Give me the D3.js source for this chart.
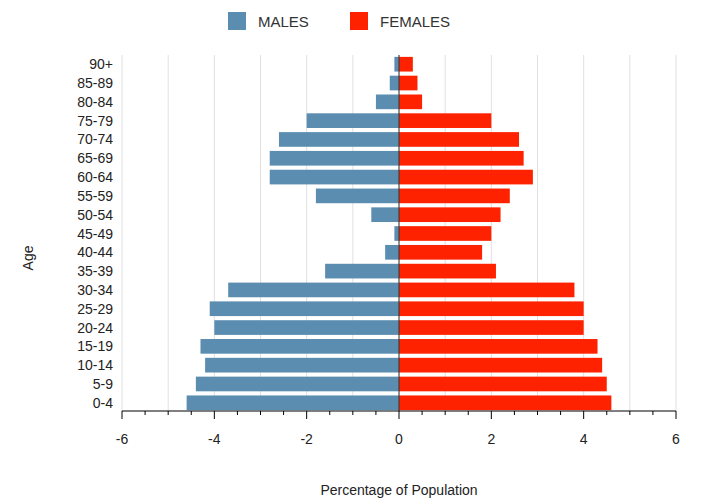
<!DOCTYPE html>
<html><head><meta charset="utf-8">
<script src="https://cdn.jsdelivr.net/npm/d3@7"></script>
<style>body{margin:0;background:#fff;font-family:Arial,"Liberation Sans",sans-serif}</style>
</head><body><div id="chart"></div>
<script>
const ages = ["0-4","5-9","10-14","15-19","20-24","25-29","30-34","35-39","40-44","45-49","50-54","55-59","60-64","65-69","70-74","75-79","80-84","85-89","90+"];
const males = [-4.6,-4.4,-4.2,-4.3,-4.0,-4.1,-3.7,-1.6,-0.3,-0.1,-0.6,-1.8,-2.8,-2.8,-2.6,-2.0,-0.5,-0.2,-0.1];
const females = [4.6,4.5,4.4,4.3,4.0,4.0,3.8,2.1,1.8,2.0,2.2,2.4,2.9,2.7,2.6,2.0,0.5,0.4,0.3];
const xTicks = [-6,-4,-2,0,2,4,6];

const width = 726, height = 503;
const svg = d3.select("#chart").append("svg").attr("width", width).attr("height", height);
const x = d3.scaleLinear().domain([-6, 6]).range([122, 676]);
const y = d3.scaleBand().domain(ages.slice().reverse()).range([55, 412]).paddingInner(0.22).paddingOuter(0.1);

// gridlines every unit
svg.append("g").selectAll("line").data(d3.range(-6, 7)).enter().append("line")
  .attr("x1", d => x(d)).attr("x2", d => x(d)).attr("y1", 55).attr("y2", 411)
  .attr("stroke", "#e0e0e0");

svg.append("g").selectAll("rect").data(ages).enter().append("rect")
  .attr("x", (d, i) => x(males[i])).attr("width", (d, i) => x(0) - x(males[i]))
  .attr("y", d => y(d)).attr("height", y.bandwidth()).attr("fill", "#5b8db0");
svg.append("g").selectAll("rect").data(ages).enter().append("rect")
  .attr("x", x(0)).attr("width", (d, i) => x(females[i]) - x(0))
  .attr("y", d => y(d)).attr("height", y.bandwidth()).attr("fill", "#ff2200");

svg.append("line").attr("x1", x(0)).attr("x2", x(0)).attr("y1", 55).attr("y2", 411).attr("stroke", "#333");

// x axis
const ax = svg.append("g").attr("transform", "translate(0,411)");
ax.append("line").attr("x1", x(-6)).attr("x2", x(6)).attr("stroke", "#000");
ax.selectAll(".mt").data(d3.range(-6, 6.01, 0.5)).enter().append("line")
  .attr("x1", d => x(d)).attr("x2", d => x(d)).attr("y1", 0)
  .attr("y2", d => d % 2 === 0 ? 8 : 4).attr("stroke", "#000");
ax.selectAll("text").data(xTicks).enter().append("text")
  .attr("x", d => x(d)).attr("y", 33).attr("text-anchor", "middle")
  .attr("font-size", 14).attr("fill", "#222").text(d => d);

// y labels
svg.append("g").selectAll("text").data(ages).enter().append("text")
  .attr("x", 113).attr("y", d => y(d) + y.bandwidth() / 2 + 5)
  .attr("text-anchor", "end").attr("font-size", 14).attr("fill", "#222").text(d => d);

svg.append("text").attr("transform", "translate(33,258) rotate(-90)")
  .attr("text-anchor", "middle").attr("font-size", 14).attr("fill", "#222").text("Age");
svg.append("text").attr("x", 399).attr("y", 495).attr("text-anchor", "middle")
  .attr("font-size", 14).attr("fill", "#222").text("Percentage of Population");

// legend
const legend = [{label: "MALES", color: "#5b8db0", x: 228}, {label: "FEMALES", color: "#ff2200", x: 350}];
const lg = svg.append("g").selectAll("g").data(legend).enter().append("g");
lg.append("rect").attr("x", d => d.x).attr("y", 12).attr("width", 18).attr("height", 18).attr("fill", d => d.color);
lg.append("text").attr("x", d => d.x + 30).attr("y", 27).attr("font-size", 15).attr("fill", "#333").text(d => d.label);
</script></body></html>
